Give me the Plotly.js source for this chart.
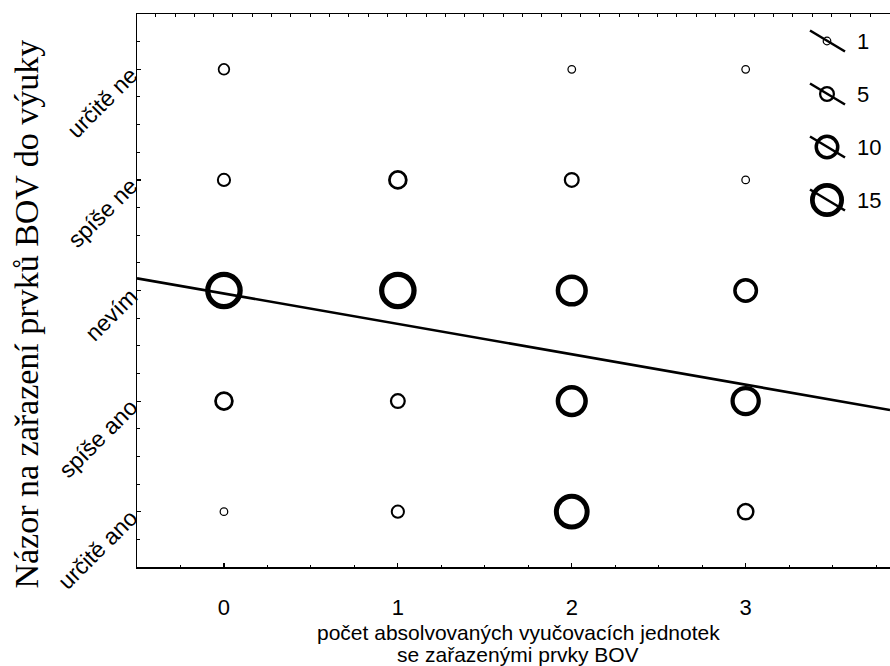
<!DOCTYPE html>
<html>
<head>
<meta charset="utf-8">
<script src="https://cdn.plot.ly/plotly-3.0.1.min.js"></script>
<style>html,body{margin:0;padding:0;background:#fff;}#chart{width:890px;height:666px;}</style>
</head>
<body>
<div id="chart"></div>
<script>
// ---- data ----
const xValues = [0, 1, 2, 3];
const categories = ["určitě ano", "spíše ano", "nevím", "spíše ne", "určitě ne"];
const categoryLevels = [1, 2, 3, 4, 5];
const countsUrciteAno = [1, 4, 16, 6];
const countsSpiseAno  = [7, 5, 14, 13];
const countsNevim     = [17, 17, 14, 10];
const countsSpiseNe   = [4, 7, 5, 1];
const countsUrciteNe  = [3, 0, 1, 1];
const regressionX = [-0.5, 3.83];
const regressionY = [3.11, 1.92];
const legendCounts = [1, 5, 10, 15];
const xTickLabels = ["0", "1", "2", "3"];
const xTitleLines = ["počet absolvovaných vyučovacích jednotek", "se zařazenými prvky BOV"];
const yTitle = "Názor na zařazení prvků BOV do výuky";

// ---- styling helpers ----
const SANS = 'Liberation Sans, Arial, sans-serif';
const SERIF = 'Liberation Serif, Times New Roman, serif';
const sizeOf = n => 6 + 1.55 * n;       // marker diameter
const lwOf = n => 1 + 0.25 * n;         // ring stroke width

const rows = [countsUrciteAno, countsSpiseAno, countsNevim, countsSpiseNe, countsUrciteNe];
const bx = [], by = [], bn = [];
rows.forEach((row, ri) => {
  row.forEach((n, xi) => {
    if (n > 0) { bx.push(xValues[xi]); by.push(categoryLevels[ri]); bn.push(n); }
  });
});

const bubbles = {
  type: 'scatter', mode: 'markers', x: bx, y: by,
  marker: {
    symbol: 'circle', color: 'rgba(0,0,0,0)', opacity: 1,
    size: bn.map(sizeOf),
    line: {color: '#000', width: bn.map(lwOf)}
  },
  hoverinfo: 'skip', showlegend: false
};

const regLine = {
  type: 'scatter', mode: 'lines', x: regressionX, y: regressionY,
  line: {color: '#000', width: 2.6}, showlegend: false, hoverinfo: 'skip'
};

// custom legend on a pixel-like overlay axis
const legCX = 827, legY0 = 41, legStep = 53;
const legX = [], legYs = [], segX = [], segY = [];
legendCounts.forEach((n, i) => {
  const cy = legY0 + i * legStep;
  legX.push(legCX); legYs.push(cy);
  segX.push(legCX - 17, legCX + 18, null);
  segY.push(cy - 10.5, cy + 10.5, null);
});
const legSeg = {
  type: 'scatter', mode: 'lines', x: segX, y: segY, xaxis: 'x3', yaxis: 'y3',
  line: {color: '#000', width: 2.6}, showlegend: false, hoverinfo: 'skip'
};
const legMarks = {
  type: 'scatter', mode: 'markers', x: legX, y: legYs, xaxis: 'x3', yaxis: 'y3',
  marker: {symbol: 'circle', color: 'rgba(0,0,0,0)', opacity: 1, size: legendCounts.map(sizeOf),
           line: {color: '#000', width: legendCounts.map(lwOf)}},
  showlegend: false, hoverinfo: 'skip'
};
const topDummy = {type: 'scatter', mode: 'markers', x: [0], y: [3], xaxis: 'x2', yaxis: 'y',
  marker: {opacity: 0}, showlegend: false, hoverinfo: 'skip'};

const annotations = legendCounts.map((n, i) => ({
  xref: 'x3', yref: 'y3', x: 855, y: legY0 + i * legStep, text: String(n),
  showarrow: false, xanchor: 'left', yanchor: 'middle',
  font: {family: SANS, size: 22, color: '#000'}
}));
annotations.push({
  xref: 'paper', yref: 'paper', x: -0.148, y: 0.4575, text: yTitle, textangle: -90,
  showarrow: false, xanchor: 'center', yanchor: 'middle',
  font: {family: SERIF, size: 34, color: '#000'}
});
xTitleLines.forEach((t, i) => annotations.push({
  xref: 'paper', yref: 'paper', x: 0.506, y: [-0.119, -0.158][i], text: t,
  showarrow: false, xanchor: 'center', yanchor: 'middle',
  font: {family: SANS, size: 21, color: '#000'}
}));

const layout = {
  width: 890, height: 666,
  margin: {l: 137, r: 0, t: 14, b: 99},
  paper_bgcolor: '#fff', plot_bgcolor: '#fff',
  font: {family: SANS, size: 22, color: '#000'},
  xaxis: {
    range: [-0.5, 3.83], tickvals: xValues, ticktext: xTickLabels,
    tickfont: {family: SANS, size: 22, color: '#000'},
    showline: true, linecolor: '#000', linewidth: 1.5,
    ticks: 'inside', ticklen: 4, tickwidth: 1.2, tickcolor: '#000',
    minor: {dtick: 0.25, tick0: 0, ticks: 'inside', ticklen: 2.5, tickwidth: 1, tickcolor: '#000'},
    showgrid: false, zeroline: false, ticklabelstandoff: 20
  },
  xaxis2: {
    overlaying: 'x', side: 'top', range: [-0.5, 3.83],
    showline: true, linecolor: '#000', linewidth: 1.5,
    ticks: 'inside', ticklen: 2.5, tickcolor: '#000', tick0: 0.052, dtick: 0.111,
    showticklabels: false, showgrid: false, zeroline: false
  },
  yaxis: {
    range: [0.5, 5.5], tickvals: categoryLevels, ticktext: categories, tickangle: -45,
    tickfont: {family: SANS, size: 23, color: '#000'},
    showline: true, linecolor: '#000', linewidth: 1.5,
    ticks: 'inside', ticklen: 4, tickwidth: 1.2, tickcolor: '#000',
    minor: {dtick: 0.25, tick0: 0.5, ticks: 'inside', ticklen: 2.5, tickwidth: 1, tickcolor: '#000'},
    showgrid: false, zeroline: false, ticklabelstandoff: 0, ticklabelshift: 3
  },
  xaxis3: {overlaying: 'x', range: [137, 890], visible: false, fixedrange: true},
  yaxis3: {overlaying: 'y', range: [567, 14], visible: false, fixedrange: true},
  annotations: annotations,
  showlegend: false
};

Plotly.newPlot('chart', [regLine, bubbles, topDummy, legSeg, legMarks], layout, {displayModeBar: false, staticPlot: true});
</script>
</body>
</html>
